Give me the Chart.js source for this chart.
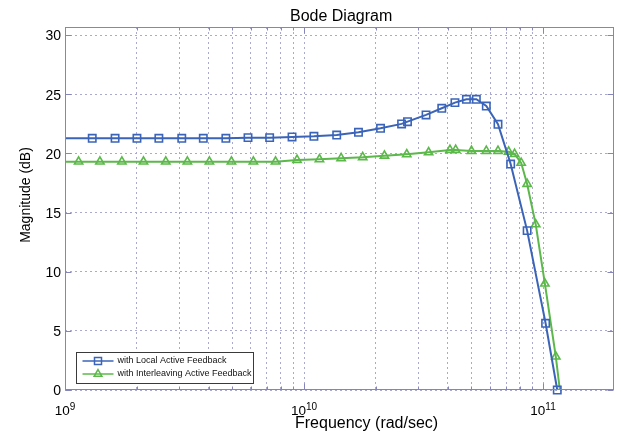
<!DOCTYPE html>
<html>
<head>
<meta charset="utf-8">
<title>Bode Diagram</title>
<script src="https://cdn.jsdelivr.net/npm/chart.js@4.4.1/dist/chart.umd.min.js"></script>
<style>
  html, body { margin: 0; padding: 0; background: #fff; }
</style>
</head>
<body>
<canvas id="bode" width="621" height="441"></canvas>
<script>
// frequency (rad/sec) and magnitude (dB)
const freqLocal = [1e9, 1.30e9, 1.62e9, 2.00e9, 2.47e9, 3.08e9, 3.79e9, 4.71e9, 5.83e9, 7.18e9, 8.91e9,
  1.10e10, 1.37e10, 1.69e10, 2.09e10, 2.56e10, 2.71e10, 3.24e10, 3.77e10, 4.28e10, 4.78e10,
  5.26e10, 5.79e10, 6.48e10, 7.32e10, 8.58e10, 1.025e11, 1.147e11];
const magLocal = [21.27, 21.27, 21.27, 21.27, 21.27, 21.27, 21.27, 21.27, 21.33, 21.33, 21.39,
  21.44, 21.55, 21.78, 22.12, 22.49, 22.68, 23.25, 23.81, 24.29, 24.57,
  24.57, 24.0, 22.46, 19.1, 13.47, 5.64, 0];

const freqInterleave = [1e9, 1.14e9, 1.40e9, 1.73e9, 2.13e9, 2.64e9, 3.25e9, 4.02e9, 4.97e9, 6.14e9, 7.60e9,
  9.35e9, 1.16e10, 1.43e10, 1.76e10, 2.17e10, 2.69e10, 3.32e10, 4.08e10, 4.31e10, 5.02e10,
  5.79e10, 6.48e10, 7.18e10, 7.60e10, 8.10e10, 8.58e10, 9.32e10, 1.018e11, 1.131e11, 1.176e11];
const magInterleave = [19.3, 19.3, 19.3, 19.3, 19.3, 19.3, 19.3, 19.3, 19.3, 19.3, 19.3,
  19.44, 19.5, 19.59, 19.67, 19.8, 19.92, 20.09, 20.29, 20.29, 20.2,
  20.2, 20.2, 20.14, 19.95, 19.2, 17.41, 14.0, 8.99, 2.82, 0];

const seriesNames = ['with Local Active Feedback', 'with Interleaving Active Feedback'];
const yTicks = [0, 5, 10, 15, 20, 25, 30];
const xTickDecades = [1e9, 1e10, 1e11];
const xTickExponents = ['9', '10', '11'];

const X_MIN = 1e9, X_MAX = 1.985e11;
const Y_MIN = 0, Y_MAX = 30.68;

const BLUE = '#3b64b8';
const GREEN = '#5cb84a';
const FRAME = '#8585bb';
const GRID = '#a9a9d2';
const FONT = '"Liberation Sans", Arial, sans-serif';

const toPoints = (xs, ys) => xs.map((f, i) => ({ x: f, y: ys[i] }));

// grid positions 1..9 x 10^n
const minorTicks = [];
xTickDecades.forEach(d => {
  for (let m = 1; m <= 9; m++) {
    const v = m * d;
    if (v >= X_MIN && v <= X_MAX) minorTicks.push(v);
  }
});

// no marker on the points where the traces meet the axes
const markerRadius = r => c => {
  const last = c.dataset.data.length - 1;
  if (c.dataIndex === 0) return 0;
  if (c.datasetIndex === 1 && c.dataIndex === last) return 0;
  return r;
};

function drawMarker(ctx, style, cx, cy) {
  ctx.beginPath();
  if (style === 'rect') {
    ctx.rect(cx - 3.5, cy - 3.5, 7, 7);
  } else {
    const r = 4.5;
    ctx.moveTo(cx, cy - r);
    ctx.lineTo(cx + r * 0.866, cy + r / 2);
    ctx.lineTo(cx - r * 0.866, cy + r / 2);
    ctx.closePath();
  }
  ctx.stroke();
}

const bodeDecor = {
  id: 'bodeDecor',
  afterDatasetsDraw(chart) {
    const { ctx, chartArea: a, scales: { x, y } } = chart;
    const L = Math.round(a.left) + 0.5, R = Math.round(a.right) - 0.5;
    const T = Math.round(a.top) + 0.5, B = Math.round(a.bottom) - 0.5;
    ctx.save();
    ctx.strokeStyle = FRAME;
    ctx.lineWidth = 1;
    ctx.setLineDash([]);
    ctx.strokeRect(L, T, R - L, B - T);

    // inside tick marks
    ctx.beginPath();
    minorTicks.forEach(v => {
      const px = Math.round(x.getPixelForValue(v)) + 0.5;
      const len = xTickDecades.includes(v) ? 6 : 3;
      ctx.moveTo(px, T); ctx.lineTo(px, T + len);
      ctx.moveTo(px, B); ctx.lineTo(px, B - len);
    });
    yTicks.forEach(v => {
      const py = Math.round(y.getPixelForValue(v)) + 0.5;
      ctx.moveTo(L, py); ctx.lineTo(L + 6, py);
      ctx.moveTo(R, py); ctx.lineTo(R - 6, py);
    });
    ctx.stroke();

    // legend box, lower left
    const lx = L + 11, ly = B - 37, lw = 177, lh = 31;
    ctx.fillStyle = '#fff';
    ctx.fillRect(lx, ly, lw, lh);
    ctx.strokeStyle = '#3a3a3a';
    ctx.strokeRect(lx, ly, lw, lh);
    ctx.font = '9px ' + FONT;
    ctx.textBaseline = 'middle';
    ctx.textAlign = 'left';
    chart.data.datasets.forEach((ds, i) => {
      const cy = ly + 8.5 + i * 13;
      ctx.strokeStyle = ds.borderColor;
      ctx.lineWidth = 1.5;
      ctx.beginPath();
      ctx.moveTo(lx + 6, cy); ctx.lineTo(lx + 37, cy);
      ctx.stroke();
      drawMarker(ctx, ds.pointStyle, lx + 21.5, cy);
      ctx.fillStyle = '#111';
      ctx.fillText(ds.label, lx + 41, cy);
    });
    ctx.restore();
  },
  afterDraw(chart) {
    const { ctx, chartArea: a, scales: { x } } = chart;
    const midX = (a.left + a.right) / 2;
    ctx.save();
    ctx.fillStyle = '#000';
    ctx.textBaseline = 'alphabetic';
    ctx.textAlign = 'center';
    ctx.font = '16px ' + FONT;
    ctx.fillText('Bode Diagram', midX + 1.5, a.top - 6.5);
    ctx.fillText('Frequency (rad/sec)', midX + 27, a.bottom + 38);

    ctx.save();
    ctx.translate(29.5, a.top + 168);
    ctx.rotate(-Math.PI / 2);
    ctx.font = '14px ' + FONT;
    ctx.fillText('Magnitude (dB)', 0, 0);
    ctx.restore();

    // decade labels with superscript exponent
    ctx.textAlign = 'left';
    xTickDecades.forEach((v, i) => {
      const px = x.getPixelForValue(v);
      ctx.font = '13.5px ' + FONT;
      const wBase = ctx.measureText('10').width;
      ctx.font = '10px ' + FONT;
      const wExp = ctx.measureText(xTickExponents[i]).width;
      const x0 = px - (wBase + wExp) / 2;
      ctx.font = '13.5px ' + FONT;
      ctx.fillText('10', x0, a.bottom + 25);
      ctx.font = '10px ' + FONT;
      ctx.fillText(xTickExponents[i], x0 + wBase, a.bottom + 19.5);
    });
    ctx.restore();
  }
};

new Chart(document.getElementById('bode'), {
  type: 'line',
  data: {
    datasets: [
      {
        label: seriesNames[0],
        data: toPoints(freqLocal, magLocal),
        borderColor: BLUE,
        borderWidth: 2,
        pointStyle: 'rect',
        pointRadius: markerRadius(5.2),
        pointBorderColor: BLUE,
        pointBorderWidth: 1.6,
        pointBackgroundColor: 'rgba(0,0,0,0)',
        tension: 0,
        clip: false
      },
      {
        label: seriesNames[1],
        data: toPoints(freqInterleave, magInterleave),
        borderColor: GREEN,
        borderWidth: 2,
        pointStyle: 'triangle',
        pointRadius: markerRadius(4.8),
        pointBorderColor: GREEN,
        pointBorderWidth: 1.6,
        pointBackgroundColor: 'rgba(0,0,0,0)',
        tension: 0,
        clip: false
      }
    ]
  },
  options: {
    responsive: false,
    animation: false,
    devicePixelRatio: 1,
    layout: { padding: { top: 27, right: 3, left: 0, bottom: 0 } },
    plugins: {
      legend: { display: false },
      title: { display: false },
      tooltip: { enabled: false }
    },
    scales: {
      x: {
        type: 'logarithmic',
        min: X_MIN,
        max: X_MAX,
        afterBuildTicks: s => { s.ticks = minorTicks.map(v => ({ value: v })); },
        afterFit: s => { s.height = 51; },
        ticks: { display: false },
        grid: { color: GRID, lineWidth: 1, drawTicks: false },
        border: { display: false, dash: [2, 3] }
      },
      y: {
        type: 'linear',
        min: Y_MIN,
        max: Y_MAX,
        afterBuildTicks: s => { s.ticks = yTicks.map(v => ({ value: v })); },
        afterFit: s => { s.width = 65; },
        ticks: {
          color: '#000',
          font: { family: FONT, size: 14 },
          padding: 4,
          labelOffset: 1.5
        },
        grid: { color: GRID, lineWidth: 1, drawTicks: false },
        border: { display: false, dash: [2, 3] }
      }
    }
  },
  plugins: [bodeDecor]
});
</script>
</body>
</html>
